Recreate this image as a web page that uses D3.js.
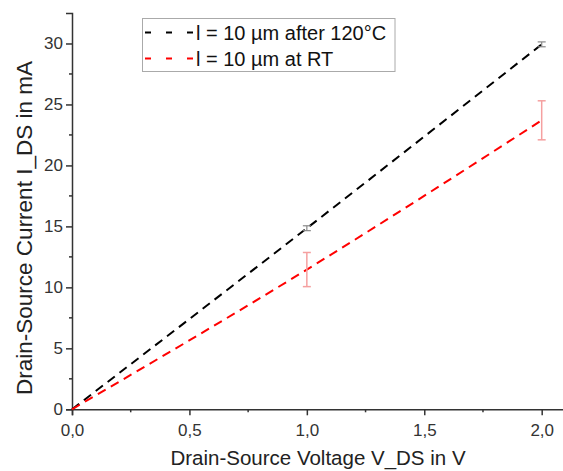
<!DOCTYPE html>
<html>
<head>
<meta charset="utf-8">
<script src="https://cdn.jsdelivr.net/npm/d3@7"></script>
<style>
  body { margin: 0; background: #fff; }
  text { font-family: "Liberation Sans", Arial, sans-serif; }
</style>
</head>
<body>
<script>
// data
const voltage = [0, 1.0, 2.0];
const currentAfter120 = [0, 14.85, 29.93];
const errAfter120 = [0, 0.2, 0.2];
const currentRT = [0, 11.46, 23.7];
const errRT = [0, 1.4, 1.6];
const seriesNames = ["l = 10 µm after 120°C", "l = 10 µm at RT"];
const seriesColors = ["#000000", "#ff0000"];
const errColors = ["#888888", "#f5a0a0"];
const xTicks = [0, 0.5, 1.0, 1.5, 2.0];
const yTicks = [0, 5, 10, 15, 20, 25, 30];

const width = 563, height = 471;
const margin = {left: 72, top: 13, right: 0, bottom: 62};

const svg = d3.select("body").append("svg")
    .attr("width", width)
    .attr("height", height);

const x = d3.scaleLinear().domain([0, 2.095]).range([margin.left, 564]);
const y = d3.scaleLinear().domain([0, 32.5]).range([409.3, margin.top]);

const axisColor = "#333";
const fmt = d3.format(".1f");

// minor ticks
const xMinor = d3.range(0.25, 2.1, 0.5);
const yMinor = d3.range(2.5, 32.5, 5);

const gx = svg.append("g").attr("transform", `translate(0,${y(0)})`)
    .call(d3.axisBottom(x).tickValues(xTicks).tickSize(6).tickPadding(9)
        .tickFormat(d => fmt(d).replace(".", ",")));
gx.append("g").selectAll("line").data(xMinor).join("line")
    .attr("x1", d => x(d)).attr("x2", d => x(d))
    .attr("y1", 0).attr("y2", 3);

const gy = svg.append("g").attr("transform", `translate(${x(0)},0)`)
    .call(d3.axisLeft(y).tickValues(yTicks).tickSize(6).tickPadding(3));
gy.append("g").selectAll("line").data(yMinor).join("line")
    .attr("x1", 0).attr("x2", -3)
    .attr("y1", d => y(d)).attr("y2", d => y(d));

[gx, gy].forEach(g => {
  g.select(".domain").attr("stroke", axisColor).attr("stroke-width", 1.5);
  g.selectAll("line").attr("stroke", axisColor).attr("stroke-width", 1.5);
  g.selectAll(".tick text").attr("fill", "#333").attr("font-size", 17)
    .attr("font-family", "Liberation Sans, Arial, sans-serif");
});

// series
const series = [
  {vals: currentAfter120, err: errAfter120},
  {vals: currentRT, err: errRT}
];

const line = d3.line()
    .x(d => x(d[0])).y(d => y(d[1]))
    .curve(d3.curveMonotoneX);

series.forEach((s, i) => {
  const pts = voltage.map((v, j) => [v, s.vals[j], s.err[j]]);
  svg.append("path")
      .datum(pts)
      .attr("d", line)
      .attr("fill", "none")
      .attr("stroke", seriesColors[i])
      .attr("stroke-width", 2)
      .attr("stroke-dasharray", "9,6");

  const eb = svg.append("g").selectAll("g")
      .data(pts.filter(p => p[2] > 0))
      .join("g")
      .attr("stroke", errColors[i])
      .attr("stroke-width", i === 1 ? 1.5 : 1.2);
  eb.append("line")
      .attr("x1", d => x(d[0])).attr("x2", d => x(d[0]))
      .attr("y1", d => y(d[1] - d[2])).attr("y2", d => y(d[1] + d[2]));
  eb.append("line")
      .attr("x1", d => x(d[0]) - 4).attr("x2", d => x(d[0]) + 4)
      .attr("y1", d => y(d[1] + d[2])).attr("y2", d => y(d[1] + d[2]));
  eb.append("line")
      .attr("x1", d => x(d[0]) - 4).attr("x2", d => x(d[0]) + 4)
      .attr("y1", d => y(d[1] - d[2])).attr("y2", d => y(d[1] - d[2]));
});

// legend
const lg = svg.append("g");
lg.append("rect")
    .attr("x", 142.5).attr("y", 18.5)
    .attr("width", 252.5).attr("height", 53)
    .attr("fill", "#fff").attr("stroke", "#aaa").attr("stroke-width", 1);
seriesNames.forEach((name, i) => {
  const ly = 32.5 + i * 26;
  lg.append("line")
      .attr("x1", 145).attr("x2", 193)
      .attr("y1", ly).attr("y2", ly)
      .attr("stroke", seriesColors[i]).attr("stroke-width", 2)
      .attr("stroke-dasharray", "6,15");
  lg.append("text")
      .attr("x", 196).attr("y", ly + 7)
      .attr("font-size", 20).attr("fill", "#111")
      .text(name);
});

// axis titles
svg.append("text")
    .attr("x", 318).attr("y", 465)
    .attr("text-anchor", "middle")
    .attr("font-size", 20.5).attr("fill", "#222")
    .text("Drain-Source Voltage V_DS in V");

svg.append("text")
    .attr("transform", "translate(32,228) rotate(-90)")
    .attr("text-anchor", "middle")
    .attr("font-size", 22.5).attr("fill", "#222")
    .text("Drain-Source Current I_DS in mA");
</script>
</body>
</html>
